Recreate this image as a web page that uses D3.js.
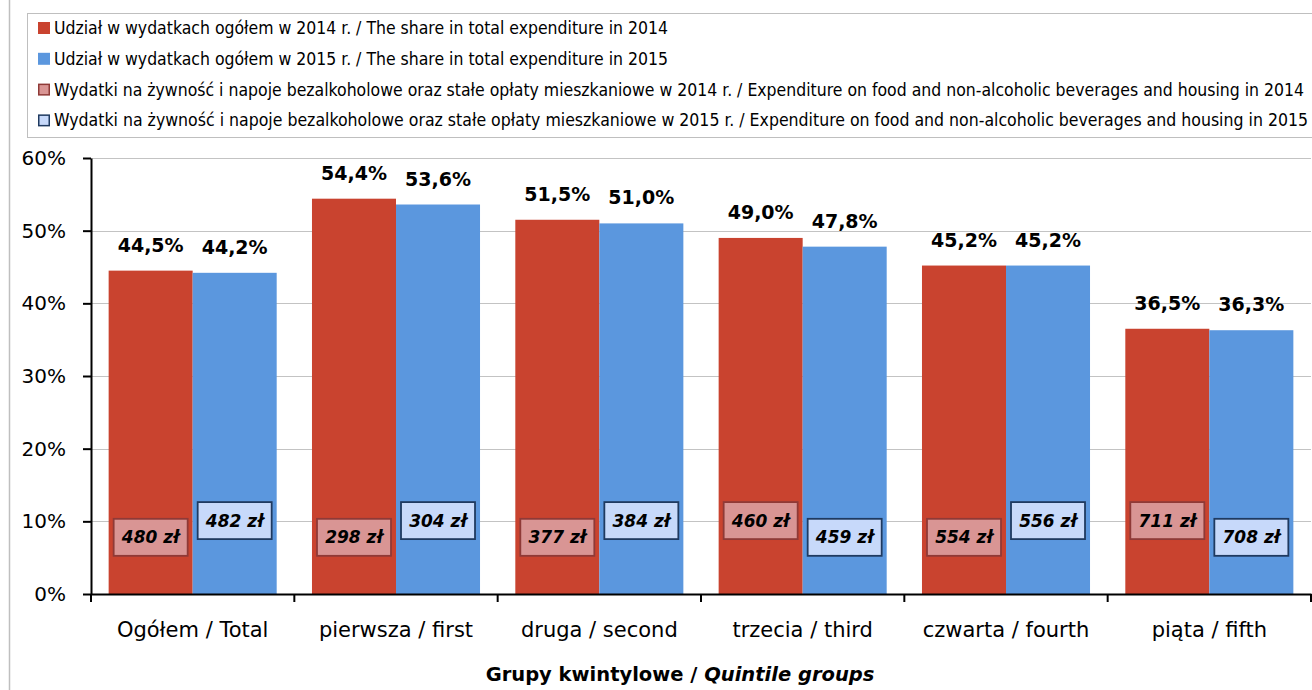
<!DOCTYPE html>
<html>
<head>
<meta charset="utf-8">
<script src="https://cdn.jsdelivr.net/npm/d3@7"></script>
<style>
  body { margin: 0; background: #fff; }
  svg { display: block; }
</style>
</head>
<body>
<svg id="chart" width="1312" height="690"></svg>
<script>
// ---------------- data
let categories = ['Ogółem / Total', 'pierwsza / first', 'druga / second', 'trzecia / third', 'czwarta / fourth', 'piąta / fifth']
let years = ['2014', '2015']
let share2014 = [0.445, 0.544, 0.515, 0.490, 0.452, 0.365]
let share2015 = [0.442, 0.536, 0.510, 0.478, 0.452, 0.363]
let spend2014 = [480, 298, 377, 460, 554, 711]
let spend2015 = [482, 304, 384, 459, 556, 708]
let yTicks = [0, 0.1, 0.2, 0.3, 0.4, 0.5, 0.6]
let legendLabels = [
  'Udział w wydatkach ogółem w 2014 r. / The share in total expenditure in 2014',
  'Udział w wydatkach ogółem w 2015 r. / The share in total expenditure in 2015',
  'Wydatki na żywność i napoje bezalkoholowe oraz stałe opłaty mieszkaniowe w 2014 r. / Expenditure on food and non-alcoholic beverages and housing in 2014',
  'Wydatki na żywność i napoje bezalkoholowe oraz stałe opłaty mieszkaniowe w 2015 r. / Expenditure on food and non-alcoholic beverages and housing in 2015'
]

// ---------------- layout / style
let W = 1312, H = 690
let plot = {left: 91, right: 1311, top: 158, bottom: 594}
let red = '#C9432F', blue = '#5B97DE'
let redBox = {fill: '#D99594', stroke: '#8F3A37'}
let blueBox = {fill: '#C7D9FA', stroke: '#1F3A60'}
let gridColor = '#C3C3C3'
// which money boxes sit higher (Excel moved them by hand)
let raised2014 = [false, false, false, true, false, true]
let raised2015 = [true, true, true, false, true, false]

let pl = d3.formatLocale({decimal: ',', thousands: ' ', grouping: [3], currency: ['', ' zł']})
let pctAxis = pl.format('.0%')
let pctLabel = pl.format('.1%')

let svg = d3.select('#chart')

// outer frame (left edge of the chart area)
svg.append('line')
  .attr('x1', 9.5).attr('x2', 9.5).attr('y1', 0).attr('y2', H)
  .attr('stroke', '#BFBFBF').attr('stroke-width', 1.5)

// ---------------- legend
let legend = svg.append('g').attr('class', 'legend')
legend.append('rect')
  .attr('x', 27.5).attr('y', 13.5).attr('width', W).attr('height', 124)
  .attr('fill', 'none').attr('stroke', '#BFBFBF')

let legendStyles = [
  {fill: red, stroke: 'none'},
  {fill: blue, stroke: 'none'},
  {fill: redBox.fill, stroke: redBox.stroke},
  {fill: blueBox.fill, stroke: blueBox.stroke}
]
let legendWidths = [614, 614, 1250, 1254]

legendLabels.forEach((txt, i) => {
  let by = 34 + i * 30.8
  let solid = legendStyles[i].stroke == 'none'
  legend.append('rect')
    .attr('x', solid ? 38 : 38.75)
    .attr('y', solid ? by - 12 : by - 11.25)
    .attr('width', solid ? 12 : 10.5)
    .attr('height', solid ? 12 : 10.5)
    .attr('fill', legendStyles[i].fill)
    .attr('stroke', legendStyles[i].stroke)
    .attr('stroke-width', 1.5)
  legend.append('text')
    .attr('x', 54).attr('y', by)
    .attr('font-family', '"Liberation Sans Narrow", "DejaVu Sans Condensed", sans-serif')
    .attr('font-size', '17px')
    .attr('fill', '#000')
    .attr('textLength', legendWidths[i])
    .attr('lengthAdjust', 'spacingAndGlyphs')
    .text(txt)
})

// ---------------- scales
let x0 = d3.scaleBand().domain(categories).range([plot.left, plot.right]).padding(0)
let x1 = d3.scaleBand().domain(years).range([0, x0.bandwidth()]).paddingInner(0).paddingOuter(0.21)
let y = d3.scaleLinear().domain([0, 0.6]).range([plot.bottom, plot.top])

// gridlines
svg.append('g').attr('class', 'grid')
  .selectAll('line').data(yTicks.filter(d => d > 0))
  .enter().append('line')
  .attr('x1', plot.left).attr('x2', plot.right)
  .attr('y1', d => Math.round(y(d)) + 0.5).attr('y2', d => Math.round(y(d)) + 0.5)
  .attr('stroke', gridColor).attr('stroke-width', 1)

// ---------------- bars
let rows = categories.map((c, i) => ({
  cat: c,
  vals: [
    {year: '2014', share: share2014[i], spend: spend2014[i], up: raised2014[i]},
    {year: '2015', share: share2015[i], spend: spend2015[i], up: raised2015[i]}
  ]
}))

let groups = svg.append('g').attr('class', 'bars')
  .selectAll('g').data(rows)
  .enter().append('g')
  .attr('transform', d => `translate(${x0(d.cat)},0)`)

groups.selectAll('rect').data(d => d.vals)
  .enter().append('rect')
  .attr('x', d => x1(d.year))
  .attr('y', d => y(d.share))
  .attr('width', x1.bandwidth())
  .attr('height', d => y(0) - y(d.share))
  .attr('fill', d => d.year == '2014' ? red : blue)

// percent labels
groups.selectAll('text.pct').data(d => d.vals)
  .enter().append('text')
  .attr('class', 'pct')
  .attr('x', d => x1(d.year) + x1.bandwidth() / 2)
  .attr('y', d => y(d.share) - 19)
  .attr('text-anchor', 'middle')
  .attr('font-family', '"DejaVu Sans", Verdana, sans-serif')
  .attr('font-weight', 'bold')
  .attr('font-size', '19px')
  .text(d => pctLabel(d.share))

// money boxes
let boxW = 74, boxH = 37
let money = groups.selectAll('g.money').data(d => d.vals)
  .enter().append('g')
  .attr('class', 'money')
  .attr('transform', d => {
    let cx = x1(d.year) + x1.bandwidth() / 2
    let cy = d.up ? y(0.101) : y(0.078)
    return `translate(${cx},${cy})`
  })

money.append('rect')
  .attr('x', -boxW / 2).attr('y', -boxH / 2)
  .attr('width', boxW).attr('height', boxH)
  .attr('fill', d => d.year == '2014' ? redBox.fill : blueBox.fill)
  .attr('stroke', d => d.year == '2014' ? redBox.stroke : blueBox.stroke)
  .attr('stroke-width', 1.8)

money.append('text')
  .attr('y', 6)
  .attr('text-anchor', 'middle')
  .attr('font-family', '"DejaVu Sans", sans-serif')
  .attr('font-weight', 'bold')
  .attr('font-style', 'italic')
  .attr('font-size', '17px')
  .text(d => `${d.spend} zł`)

// ---------------- axes
let yAxis = svg.append('g')
  .attr('transform', `translate(${plot.left},0)`)
  .call(d3.axisLeft(y).tickValues(yTicks).tickFormat(pctAxis).tickSize(8).tickSizeOuter(0).tickPadding(17))
yAxis.selectAll('path, line').attr('stroke', '#000').attr('stroke-width', 2)
yAxis.selectAll('text')
  .attr('font-family', '"DejaVu Sans", Verdana, sans-serif')
  .attr('font-size', '20px')
  .attr('fill', '#000')

let xAxis = svg.append('g')
  .attr('transform', `translate(0,${plot.bottom})`)
  .call(d3.axisBottom(x0).tickSize(0).tickSizeOuter(0).tickPadding(28))
xAxis.select('path').attr('stroke', '#000').attr('stroke-width', 2)
xAxis.selectAll('text')
  .attr('font-family', '"DejaVu Sans", Verdana, sans-serif')
  .attr('font-size', '21px')
  .attr('fill', '#000')

// ticks between the groups
let bounds = categories.map(c => x0(c)).concat([x0(categories[categories.length - 1]) + x0.bandwidth()])
xAxis.selectAll('line.sep').data(bounds)
  .enter().append('line')
  .attr('class', 'sep')
  .attr('x1', d => d).attr('x2', d => d)
  .attr('y1', 0).attr('y2', 8)
  .attr('stroke', '#000').attr('stroke-width', 2)

// axis title
let title = svg.append('text')
  .attr('x', 680).attr('y', 681)
  .attr('text-anchor', 'middle')
  .attr('font-family', '"DejaVu Sans", sans-serif')
  .attr('font-weight', 'bold')
  .attr('font-size', '19.5px')
title.append('tspan').text('Grupy kwintylowe / ')
title.append('tspan').attr('font-style', 'italic').text('Quintile groups')
</script>
</body>
</html>
